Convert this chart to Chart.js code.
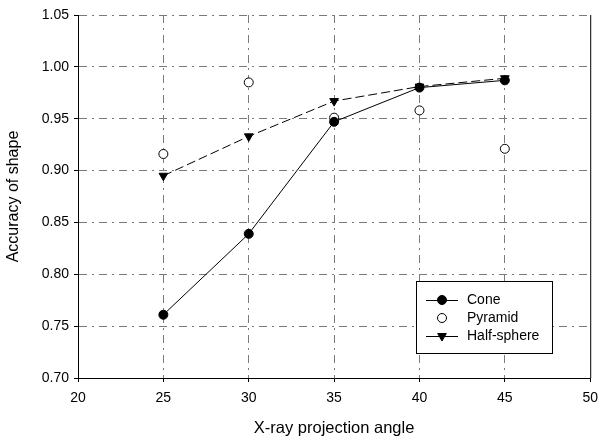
<!DOCTYPE html>
<html>
<head>
<meta charset="utf-8">
<script src="https://cdn.jsdelivr.net/npm/chart.js@4/dist/chart.umd.min.js"></script>
<style>
  html, body { margin: 0; padding: 0; background: #fff; }
  #wrap { width: 606px; height: 442px; }
</style>
</head>
<body>
<div id="wrap"><canvas id="chart"></canvas></div>
<script>
  // Values
  const angles = [25, 30, 35, 40, 45];
  const cone = [0.761, 0.839, 0.947, 0.980, 0.987];
  const pyramid = [0.916, 0.985, 0.951, 0.958, 0.921];
  const halfSphere = [0.895, 0.933, 0.967, 0.981, 0.989];
  const yTicks = [0.70, 0.75, 0.80, 0.85, 0.90, 0.95, 1.00, 1.05];
  const xTicks = [20, 25, 30, 35, 40, 45, 50];

  const font = 'Liberation Sans, Arial, sans-serif';
  const pts = (ys) => angles.map((x, i) => ({ x: x, y: ys[i] }));

  // Legend box inside the plot, plus the right frame line
  const frameAndLegend = {
    id: 'frameAndLegend',
    afterDraw(chart) {
      const { ctx, chartArea: a } = chart;
      ctx.save();
      ctx.setLineDash([]);
      ctx.strokeStyle = '#000';
      ctx.lineWidth = 1;
      ctx.beginPath();
      ctx.moveTo(a.right + 0.5, a.top);
      ctx.lineTo(a.right + 0.5, a.bottom);
      ctx.stroke();

      const bx = 416, by = 281, bw = 136, bh = 72;
      ctx.fillStyle = '#fff';
      ctx.fillRect(bx, by, bw, bh);
      ctx.strokeRect(bx + 0.5, by + 0.5, bw, bh);

      ctx.font = '14px ' + font;
      ctx.textBaseline = 'middle';
      chart.data.datasets.forEach((ds, i) => {
        const y = by + 19 + i * 18;
        ctx.setLineDash([]);
        ctx.strokeStyle = '#000';
        if (ds.showLine !== false) {
          ctx.beginPath();
          ctx.moveTo(bx + 10, y + 0.5);
          ctx.lineTo(bx + 42, y + 0.5);
          ctx.stroke();
        }
        ctx.fillStyle = ds.pointBackgroundColor;
        Chart.helpers.drawPoint(ctx, {
          pointStyle: ds.pointStyle,
          rotation: ds.pointRotation || 0,
          radius: ds.pointRadius,
          borderWidth: 1
        }, bx + 26, y);
        ctx.fillStyle = '#000';
        ctx.fillText(ds.label, bx + 51, y);
      });
      ctx.restore();
    }
  };

  const gridColor = (ctx) => {
    const n = ctx.chart.scales[ctx.scale.id].ticks.length;
    if (ctx.index === 0 || (ctx.scale.axis === 'x' && ctx.index === n - 1)) return 'rgba(0,0,0,0)';
    return '#7a7a7a';
  };

  new Chart(document.getElementById('chart'), {
    type: 'line',
    data: {
      datasets: [
        {
          label: 'Cone',
          data: pts(cone),
          borderColor: '#000',
          borderWidth: 1,
          pointStyle: 'circle',
          pointRadius: 4.5,
          pointBackgroundColor: '#000',
          pointBorderColor: '#000'
        },
        {
          label: 'Pyramid',
          data: pts(pyramid),
          showLine: false,
          borderColor: '#000',
          borderWidth: 1,
          pointStyle: 'circle',
          pointRadius: 4.5,
          pointBackgroundColor: '#fff',
          pointBorderColor: '#000'
        },
        {
          label: 'Half-sphere',
          data: pts(halfSphere),
          borderColor: '#000',
          borderWidth: 1,
          borderDash: [9, 4],
          pointStyle: 'triangle',
          pointRotation: 180,
          pointRadius: 5,
          pointBackgroundColor: '#000',
          pointBorderColor: '#000'
        }
      ]
    },
    options: {
      responsive: true,
      maintainAspectRatio: false,
      animation: false,
      layout: { padding: { top: 15, right: 8, left: 0, bottom: 0 } },
      plugins: { legend: { display: false }, tooltip: { enabled: false } },
      scales: {
        x: {
          type: 'linear',
          min: 20,
          max: 50,
          afterBuildTicks: (s) => { s.ticks = xTicks.map(v => ({ value: v })); },
          afterFit: (s) => { s.height = 64; },
          ticks: { color: '#000', font: { family: font, size: 14 }, padding: 8, maxRotation: 0 },
          grid: { color: gridColor, tickColor: '#000', tickLength: 4, lineWidth: 1 },
          border: { color: '#000', width: 1, dash: [8, 5, 2, 5] },
          title: { display: true, text: 'X-ray projection angle', color: '#000', font: { family: font, size: 16.5 }, padding: { top: 5 } }
        },
        y: {
          type: 'linear',
          min: 0.70,
          max: 1.05,
          afterBuildTicks: (s) => { s.ticks = yTicks.map(v => ({ value: v })); },
          afterFit: (s) => { s.width = 78; },
          ticks: { color: '#000', font: { family: font, size: 14 }, padding: 5, callback: (v) => v.toFixed(2) },
          grid: { color: gridColor, tickColor: '#000', tickLength: 4, lineWidth: 1 },
          border: { color: '#000', width: 1, dash: [8, 5, 2, 5] },
          title: { display: true, text: 'Accuracy of shape', color: '#000', font: { family: font, size: 16 }, padding: { bottom: 4 } }
        }
      }
    },
    plugins: [frameAndLegend]
  });
</script>
</body>
</html>
